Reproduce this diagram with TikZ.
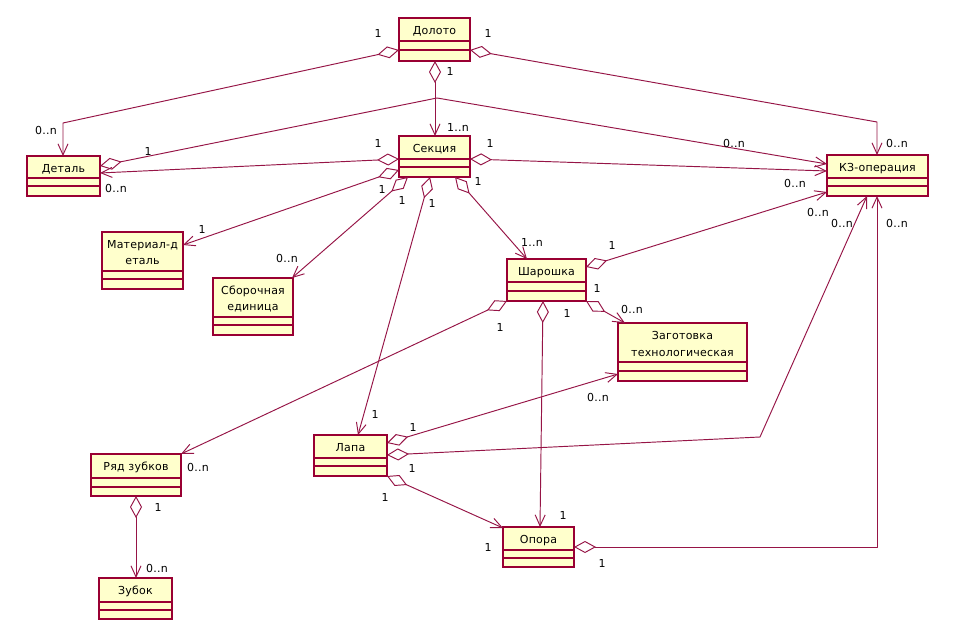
\documentclass[tikz,border=0pt]{standalone}
\usepackage{fontspec}
\setmainfont{DejaVu Sans}[LetterSpace=2]
\usetikzlibrary{arrows.meta,fit,calc}
\definecolor{bc}{RGB}{153,0,51}
\definecolor{fc}{RGB}{255,255,204}
\definecolor{lc}{RGB}{150,20,70}
\tikzset{
  clsbox/.style={draw=bc, fill=fc, line width=1.4pt, inner sep=0pt, outer sep=0pt},
  clsline/.style={draw=bc, line width=1.3pt},
  clstext/.style={anchor=base, inner sep=0pt, text=black},
  assoc/.style={draw=lc, line width=0.95pt, line join=round,
    {Diamond[open,length=22pt,width=12pt]}-{Straight Barb[length=11pt,width=10pt]}},
  lbl/.style={inner sep=0pt, text=black},
}
\newcommand{\umlcls}[9]{%
  \node[clsbox, fit={(#2,#3) (#4,#5)}] (#1) {};
  \draw[clsline] (#2,#6) -- (#4,#6) (#2,#7) -- (#4,#7);
  \node[clstext] (#1-a) at ({(#2+#4)/2},{#3+16.5}) {#8};
  \if\relax\detokenize{#9}\relax\else
  \node[clstext] (#1-b) at ({(#2+#4)/2},{#3+33}) {#9};
  \fi
}
\begin{document}
\begin{tikzpicture}[x=1pt,y=-1pt,font=\fontsize{11}{16}\selectfont]
\path[fill=white,use as bounding box] (0,0) rectangle (959,631);

\umlcls{dol}{399}{18}{470}{61}{41}{50}{Долото}{}
\umlcls{det}{27}{156}{100}{196}{178}{186}{Деталь}{}
\umlcls{sek}{399}{136}{470}{177}{159}{167}{Секция}{}
\umlcls{kz}{827}{155}{928}{196}{178}{186}{КЗ-операция}{}
\umlcls{mat}{102}{232}{183}{289}{271}{279}{Материал-д}{еталь}
\umlcls{sbor}{213}{278}{293}{335}{317}{325}{Сборочная}{единица}
\umlcls{shar}{507}{259}{586}{301}{282}{291}{Шарошка}{}
\umlcls{zag}{618}{323}{747}{381}{362}{371}{Заготовка}{технологическая}
\umlcls{lapa}{314}{435}{387}{476}{458}{466}{Лапа}{}
\umlcls{ryad}{91}{454}{181}{496}{478}{487}{Ряд зубков}{}
\umlcls{zub}{99}{578}{172}{619}{602}{610}{Зубок}{}
\umlcls{opora}{503}{527}{574}{567}{550}{558}{Опора}{}

\coordinate (b1) at (437,98);
\coordinate (b2) at (760,437);

\draw[assoc] ($(dol.north west)+(0,32)$) -- ($(det.north west)+(36,-33)$) -- ($(det.north west)+(36,0)$);
\draw[assoc] ($(dol.north east)+(0,32)$) -- ($(kz.north west)+(50,-33)$) -- ($(kz.north west)+(50,0)$);
\draw[assoc] ($(dol.south west)+(36,0)$) -- ($(sek.north west)+(36,0)$);
\draw[assoc] ($(det.north east)+(0,10)$) -- (b1) -- ($(kz.north west)+(0,9)$);
\draw[assoc] ($(sek.north west)+(0,23)$) -- ($(det.north east)+(0,17)$);
\draw[assoc] ($(sek.north east)+(0,23)$) -- ($(kz.north west)+(0,16)$);
\draw[assoc] ($(sek.south west)+(0,-7)$) -- ($(mat.north east)+(0,13)$);
\draw[assoc] ($(sek.south west)+(9,0)$) -- ($(sbor.north east)+(-1,0)$);
\draw[assoc] ($(sek.south west)+(31,0)$) -- ($(lapa.north west)+(44,0)$);
\draw[assoc] ($(sek.south west)+(56,0)$) -- ($(shar.north west)+(20,0)$);
\draw[assoc] ($(shar.north east)+(0,8)$) -- ($(kz.south west)+(0,-4)$);
\draw[assoc] (shar.south east) -- ($(zag.north west)+(7,0)$);
\draw[assoc] (shar.south west) -- (ryad.north east);
\draw[assoc] ($(shar.south west)+(36,0)$) -- ($(opora.north west)+(37,0)$);
\draw[assoc] ($(lapa.north east)+(0,8)$) -- ($(zag.south west)+(0,-7)$);
\draw[assoc] ($(lapa.north east)+(0,20)$) -- (b2) -- ($(kz.south west)+(40,0)$);
\draw[assoc] (lapa.south east) -- ($(opora.north west)+(0,1)$);
\draw[assoc] ($(opora.north east)+(0,20)$) -| ($(kz.south west)+(50,0)$);
\draw[assoc] ($(ryad.south west)+(45,0)$) -- ($(zub.north west)+(37,0)$);

\node[lbl] (t1) at (378,33) {1};
\node[lbl] (t2) at (488,33) {1};
\node[lbl] (t3) at (450,71) {1};
\node[lbl] (t4) at (458,127) {1..n};
\node[lbl] (t5) at (46,130) {0..n};
\node[lbl] (t6) at (897,143) {0..n};
\node[lbl] (t7) at (148,151) {1};
\node[lbl] (t8) at (734,143) {0..n};
\node[lbl] (t9) at (378,143) {1};
\node[lbl] (t10) at (116,188) {0..n};
\node[lbl] (t11) at (490,143) {1};
\node[lbl] (t12) at (795,183) {0..n};
\node[lbl] (t13) at (382,189) {1};
\node[lbl] (t14) at (202,229) {1};
\node[lbl] (t15) at (402,200) {1};
\node[lbl] (t16) at (287,258) {0..n};
\node[lbl] (t17) at (432,203) {1};
\node[lbl] (t18) at (375,414) {1};
\node[lbl] (t19) at (478,181) {1};
\node[lbl] (t20) at (532,242) {1..n};
\node[lbl] (t21) at (612,245) {1};
\node[lbl] (t22) at (818,212) {0..n};
\node[lbl] (t23) at (597,288) {1};
\node[lbl] (t24) at (632,309) {0..n};
\node[lbl] (t25) at (500,327) {1};
\node[lbl] (t26) at (198,467) {0..n};
\node[lbl] (t27) at (567,313) {1};
\node[lbl] (t28) at (563,515) {1};
\node[lbl] (t29) at (413,427) {1};
\node[lbl] (t30) at (598,397) {0..n};
\node[lbl] (t31) at (412,468) {1};
\node[lbl] (t32) at (842,223) {0..n};
\node[lbl] (t33) at (385,497) {1};
\node[lbl] (t34) at (488,547) {1};
\node[lbl] (t35) at (602,563) {1};
\node[lbl] (t36) at (897,223) {0..n};
\node[lbl] (t37) at (158,507) {1};
\node[lbl] (t38) at (157,568) {0..n};
\end{tikzpicture}
\end{document}
